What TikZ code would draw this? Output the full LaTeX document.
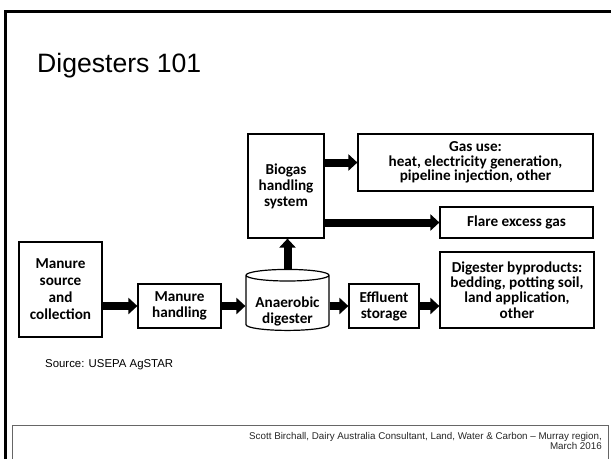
\documentclass[tikz,border=0pt]{standalone}
\usepackage{fontspec}
\setmainfont{Liberation Sans}
\newfontfamily\boxfont{Carlito}
\usetikzlibrary{arrows.meta,shapes.geometric}

\begin{document}
\begin{tikzpicture}[x=1pt, y=-1pt,
    boxtext/.style={align=center, font=\boxfont\bfseries\fontsize{15.2}{16}\selectfont},
    box/.style={draw, line width=1.2pt, inner sep=2pt, boxtext},
    flow/.style={line width=8pt, -{Triangle[length=9pt, width=16pt]}}]
    \useasboundingbox (0,0) rectangle (611,459);
    % slide frame and footer
    \draw [line width=3pt] (5.5,459) -- (5.5,11) -- (611,11);
    \draw [black!60, line width=0.8pt] (12,459) -- (12,425) -- (608,425) -- (608,459);
    \node [anchor=base west, inner sep=0pt, font=\fontsize{26.6}{30}\selectfont] (title) at (37,72) {Digesters 101};
    \node [anchor=base east, align=right, inner sep=0pt, text=black!85, font=\fontsize{9.8}{10}\selectfont] (foot) at (602,449)
        {Scott Birchall, Dairy Australia Consultant, Land, Water \& Carbon – Murray region,\\March 2016};
    \node [anchor=west, inner sep=0pt, font=\fontsize{11.4}{13}\selectfont] (note) at (45,365) {Source: USEPA AgSTAR};

    % boxes
    \node [box, font=\boxfont\bfseries\fontsize{15.2}{17}\selectfont, minimum width=83pt, minimum height=95pt] (src) at (60.5,289.5) {Manure\\source\\and\\collection};
    \node [box, minimum width=83pt, minimum height=44pt] (hand) at (179.5,306) {Manure\\handling};
    \node [box, cylinder, shape border rotate=90, aspect=0.17, minimum width=83pt, minimum height=61pt] (dig) at (287.5,304)
        {\raisebox{-12pt}[0pt][0pt]{\begin{tabular}{@{}c@{}}Anaerobic\\digester\end{tabular}}};
    \node [box, minimum width=70pt, minimum height=44pt] (eff) at (384,306) {Effluent\\storage};
    \node [box, font=\boxfont\bfseries\fontsize{15.2}{15.3}\selectfont, minimum width=154pt, minimum height=76pt] (byp) at (517,290) {Digester byproducts:\\bedding, potting soil,\\land application,\\other};
    \node [box, minimum width=76pt, minimum height=104pt] (bio) at (286,186) {Biogas\\handling\\system};
    \node [box, font=\boxfont\bfseries\fontsize{15.2}{14.6}\selectfont, minimum width=235pt, minimum height=57pt] (gas) at (475.5,162.5) {Gas use:\\heat, electricity generation,\\pipeline injection, other};
    \node [box, minimum width=153pt, minimum height=31pt] (flare) at (516.5,222.5) {Flare excess gas};

    % flows
    \draw [flow] (src.east |- hand.west) -- (hand.west);
    \draw [flow] (hand.east) -- (hand.east -| dig.west);
    \draw [flow] (dig.east |- eff.west) -- (eff.west);
    \draw [flow] (eff.east) -- (eff.east -| byp.west);
    \draw [flow] (dig.north) -- (dig.north |- bio.south);
    \draw [flow] (bio.east |- gas.west) -- (gas.west);
    \draw [flow] (bio.east |- flare.west) -- (flare.west);
\end{tikzpicture}
\end{document}
